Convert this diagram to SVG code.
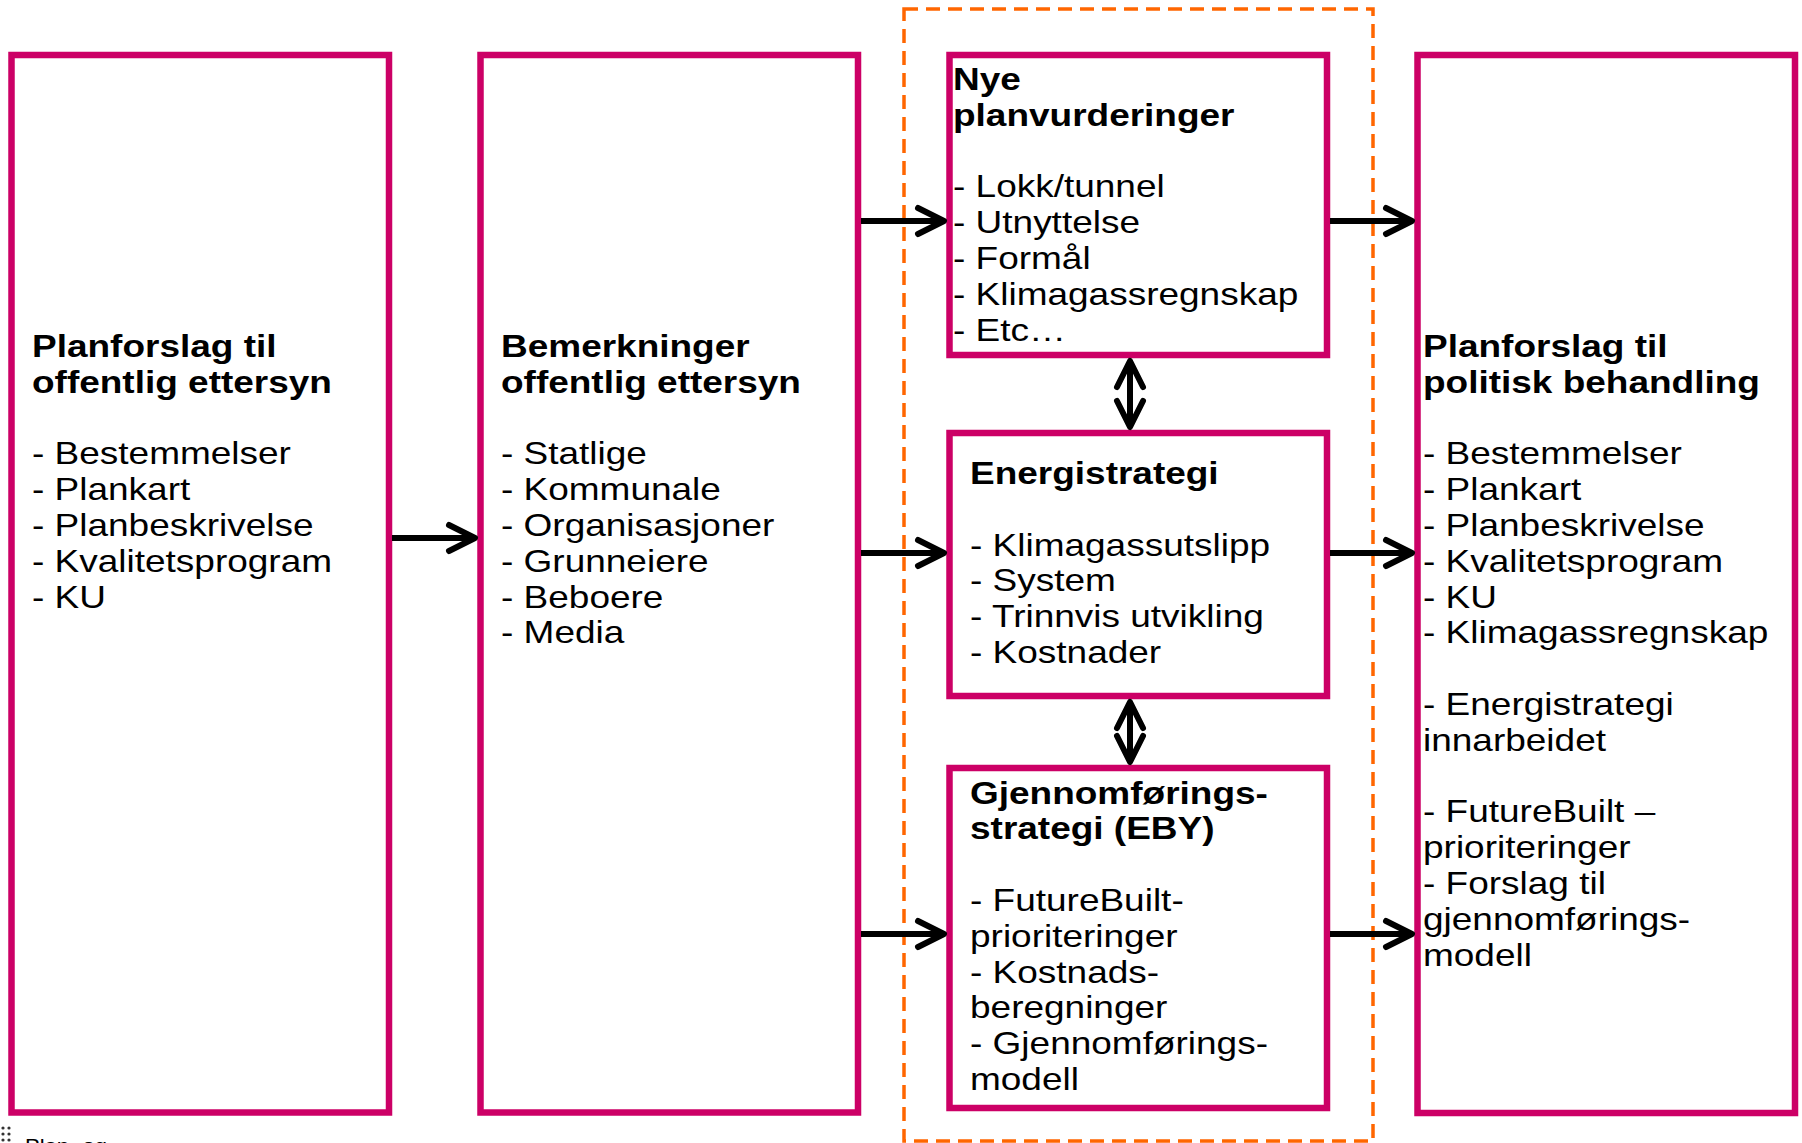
<svg xmlns="http://www.w3.org/2000/svg" width="1802" height="1143" viewBox="0 0 1802 1143">
<style>
.box{fill:none;stroke:#CC0066;stroke-width:6.5}
.t{font-family:"Liberation Sans",Arial,sans-serif;font-size:37px;fill:#000}
.b{font-weight:bold}
.con{fill:none;stroke:#000;stroke-width:6;stroke-linecap:butt}
.frame{fill:none;stroke:#FF6600;stroke-width:3.5;stroke-dasharray:14 8}
</style>
<defs>
<marker id="ah" markerUnits="userSpaceOnUse" markerWidth="40" markerHeight="40" viewBox="-30 -20 40 40" refX="0" refY="0" orient="auto-start-reverse" overflow="visible">
<path d="M-26,-13 L0,0 L-26,13" fill="none" stroke="#000" stroke-width="6" stroke-linecap="round" stroke-linejoin="round"/>
</marker>
</defs>
<rect width="1802" height="1143" fill="#fff"/>
<rect id="group-frame" class="frame" x="904" y="9" width="469" height="1132"/>

<g id="node-planforslag-offentlig">
<rect class="box" x="11.5" y="55" width="377.5" height="1057.5"/>
<text class="t" transform="translate(32,357) scale(1,0.847)">
<tspan class="b" x="0" y="0">Planforslag til</tspan>
<tspan class="b" x="0" y="42.27">offentlig ettersyn</tspan>
<tspan x="0" y="126.8">- Bestemmelser</tspan>
<tspan x="0" y="169.1">- Plankart</tspan>
<tspan x="0" y="211.4">- Planbeskrivelse</tspan>
<tspan x="0" y="253.6">- Kvalitetsprogram</tspan>
<tspan x="0" y="295.9">- KU</tspan>
</text>
</g>

<g id="node-bemerkninger">
<rect class="box" x="480.5" y="55" width="377.5" height="1057.5"/>
<text class="t" transform="translate(501,357) scale(1,0.847)">
<tspan class="b" x="0" y="0">Bemerkninger</tspan>
<tspan class="b" x="0" y="42.27">offentlig ettersyn</tspan>
<tspan x="0" y="126.8">- Statlige</tspan>
<tspan x="0" y="169.1">- Kommunale</tspan>
<tspan x="0" y="211.4">- Organisasjoner</tspan>
<tspan x="0" y="253.6">- Grunneiere</tspan>
<tspan x="0" y="295.9">- Beboere</tspan>
<tspan x="0" y="338.2">- Media</tspan>
</text>
</g>

<g id="node-nye-planvurderinger">
<rect class="box" x="949.5" y="55" width="377.5" height="300"/>
<text class="t" transform="translate(953,90) scale(1,0.847)">
<tspan class="b" x="0" y="0">Nye</tspan>
<tspan class="b" x="0" y="42.27">planvurderinger</tspan>
<tspan x="0" y="126.8">- Lokk/tunnel</tspan>
<tspan x="0" y="169.1">- Utnyttelse</tspan>
<tspan x="0" y="211.4">- Formål</tspan>
<tspan x="0" y="253.6">- Klimagassregnskap</tspan>
<tspan x="0" y="295.9">- Etc…</tspan>
</text>
</g>

<g id="node-energistrategi">
<rect class="box" x="949.5" y="433" width="377.5" height="263"/>
<text class="t" transform="translate(970,484) scale(1,0.847)">
<tspan class="b" x="0" y="0">Energistrategi</tspan>
<tspan x="0" y="84.5">- Klimagassutslipp</tspan>
<tspan x="0" y="126.8">- System</tspan>
<tspan x="0" y="169.1">- Trinnvis utvikling</tspan>
<tspan x="0" y="211.4">- Kostnader</tspan>
</text>
</g>

<g id="node-gjennomforingsstrategi">
<rect class="box" x="949.5" y="768" width="377.5" height="340"/>
<text class="t" transform="translate(970,803.5) scale(1,0.847)">
<tspan class="b" x="0" y="0">Gjennomførings-</tspan>
<tspan class="b" x="0" y="42.27">strategi (EBY)</tspan>
<tspan x="0" y="126.8">- FutureBuilt-</tspan>
<tspan x="0" y="169.1">prioriteringer</tspan>
<tspan x="0" y="211.4">- Kostnads-</tspan>
<tspan x="0" y="253.6">beregninger</tspan>
<tspan x="0" y="295.9">- Gjennomførings-</tspan>
<tspan x="0" y="338.2">modell</tspan>
</text>
</g>

<g id="node-planforslag-politisk">
<rect class="box" x="1417.5" y="55" width="377.5" height="1058"/>
<text class="t" transform="translate(1423,357) scale(1,0.847)">
<tspan class="b" x="0" y="0">Planforslag til</tspan>
<tspan class="b" x="0" y="42.27">politisk behandling</tspan>
<tspan x="0" y="126.8">- Bestemmelser</tspan>
<tspan x="0" y="169.1">- Plankart</tspan>
<tspan x="0" y="211.4">- Planbeskrivelse</tspan>
<tspan x="0" y="253.6">- Kvalitetsprogram</tspan>
<tspan x="0" y="295.9">- KU</tspan>
<tspan x="0" y="338.2">- Klimagassregnskap</tspan>
<tspan x="0" y="422.7">- Energistrategi</tspan>
<tspan x="0" y="465">innarbeidet</tspan>
<tspan x="0" y="549.5">- FutureBuilt –</tspan>
<tspan x="0" y="591.8">prioriteringer</tspan>
<tspan x="0" y="634">- Forslag til</tspan>
<tspan x="0" y="676.3">gjennomførings-</tspan>
<tspan x="0" y="718.6">modell</tspan>
</text>
</g>

<g id="connectors">
<line class="con" x1="392" y1="538" x2="475" y2="538" marker-end="url(#ah)"/>
<line class="con" x1="861" y1="221" x2="944" y2="221" marker-end="url(#ah)"/>
<line class="con" x1="861" y1="553" x2="944" y2="553" marker-end="url(#ah)"/>
<line class="con" x1="861" y1="934" x2="944" y2="934" marker-end="url(#ah)"/>
<line class="con" x1="1330" y1="221" x2="1412" y2="221" marker-end="url(#ah)"/>
<line class="con" x1="1330" y1="553" x2="1412" y2="553" marker-end="url(#ah)"/>
<line class="con" x1="1330" y1="934" x2="1412" y2="934" marker-end="url(#ah)"/>
<line class="con" x1="1130" y1="361" x2="1130" y2="427" marker-start="url(#ah)" marker-end="url(#ah)"/>
<line class="con" x1="1130" y1="702" x2="1130" y2="762" marker-start="url(#ah)" marker-end="url(#ah)"/>
</g>

<g id="footer">
<circle cx="3" cy="1128" r="1.6" fill="#333"/>
<circle cx="9" cy="1128" r="1.6" fill="#333"/>
<circle cx="3" cy="1134" r="1.6" fill="#333"/>
<circle cx="9" cy="1134" r="1.6" fill="#333"/>
<circle cx="3" cy="1140" r="1.6" fill="#333"/>
<circle cx="9" cy="1140" r="1.6" fill="#333"/>
<text transform="translate(25,1152) scale(1,0.847)" font-family="Liberation Sans, Arial, sans-serif" font-size="22" fill="#000">Plan- og</text>
</g>
</svg>
